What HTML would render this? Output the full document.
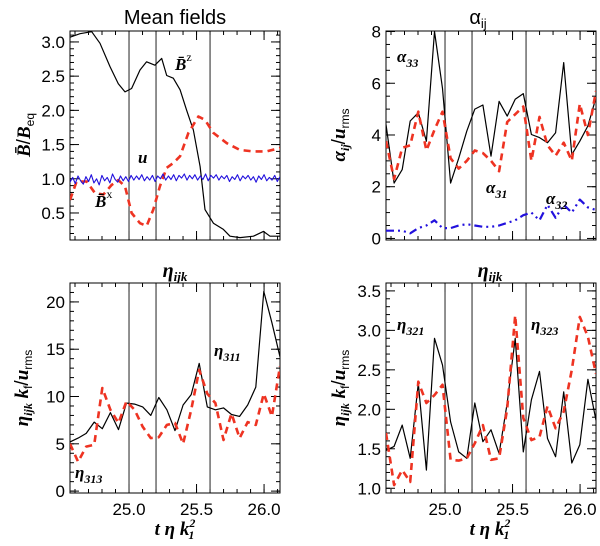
<!DOCTYPE html>
<html><head><meta charset="utf-8"><style>
body{margin:0;background:#fff;}
svg{display:block;font-family:"Liberation Sans",sans-serif;}
.tk{font-size:17px;fill:#000;}
.it{font-family:"Liberation Serif",serif;font-style:italic;font-weight:bold;}
</style></head><body>
<svg id="fig" width="600" height="546" viewBox="0 0 600 546">
<g id="layer"></g>
<text x="175" y="24" text-anchor="middle" font-size="20">Mean fields</text>
<text x="478" y="24" text-anchor="middle" font-size="20">α<tspan font-size="13" dy="4">ij</tspan></text>
<text x="175" y="277" text-anchor="middle" font-size="20" class="it">η<tspan font-size="13" dy="4">ijk</tspan></text>
<text x="490" y="277" text-anchor="middle" font-size="20" class="it">η<tspan font-size="13" dy="4">ijk</tspan></text>
<text x="175" y="535" text-anchor="middle" font-size="19" class="it">t  η  k<tspan font-size="12" dy="-8">2</tspan><tspan font-size="12" dx="-7" dy="12">1</tspan></text>
<text x="490" y="535" text-anchor="middle" font-size="19" class="it">t  η  k<tspan font-size="12" dy="-8">2</tspan><tspan font-size="12" dx="-7" dy="12">1</tspan></text>
<text transform="translate(30,135) rotate(-90)" text-anchor="middle" font-size="19"><tspan class="it">B̄</tspan>/<tspan class="it">B</tspan><tspan font-size="12" dy="4">eq</tspan></text>
<text transform="translate(345,135) rotate(-90)" text-anchor="middle" font-size="19"><tspan class="it">α</tspan><tspan font-size="12" dy="4" class="it">ij</tspan><tspan dy="-4">/</tspan><tspan class="it">u</tspan><tspan font-size="12" dy="4">rms</tspan></text>
<text transform="translate(28,388) rotate(-90)" text-anchor="middle" font-size="19"><tspan class="it">η</tspan><tspan font-size="12" dy="4" class="it">ijk</tspan><tspan dy="-4" class="it"> k</tspan><tspan font-size="12" dy="4">f</tspan><tspan dy="-4">/</tspan><tspan class="it">u</tspan><tspan font-size="12" dy="4">rms</tspan></text>
<text transform="translate(345,388) rotate(-90)" text-anchor="middle" font-size="19"><tspan class="it">η</tspan><tspan font-size="12" dy="4" class="it">ijk</tspan><tspan dy="-4" class="it"> k</tspan><tspan font-size="12" dy="4">f</tspan><tspan dy="-4">/</tspan><tspan class="it">u</tspan><tspan font-size="12" dy="4">rms</tspan></text>
<g font-size="17" class="it">
<text x="175" y="70">B̄<tspan font-size="12" dy="-9" font-style="normal" font-weight="normal">z</tspan></text>
<text x="138" y="163">u</text>
<text x="95" y="207">B̄<tspan font-size="12" dy="-9" font-style="normal" font-weight="normal">x</tspan></text>
<text x="397" y="62">α<tspan font-size="12" dy="5">33</tspan></text>
<text x="486" y="193">α<tspan font-size="12" dy="5">31</tspan></text>
<text x="546" y="204">α<tspan font-size="12" dy="5">32</tspan></text>
<text x="214" y="356">η<tspan font-size="12" dy="5">311</tspan></text>
<text x="75" y="478">η<tspan font-size="12" dy="5">313</tspan></text>
<text x="397" y="330">η<tspan font-size="12" dy="5">321</tspan></text>
<text x="531" y="330">η<tspan font-size="12" dy="5">323</tspan></text>
</g>
</svg>
<script>
// shared x domain
const xTicks=[25.0,25.5,26.0];
const xTickLabels=["25.0","25.5","26.0"];
const markerTimes=[25.0,25.2,25.6];
// Mean fields panel
const bzTimes=[24.563,24.637,24.724,24.785,24.859,24.921,24.970,25.019,25.081,25.130,25.192,25.242,25.279,25.328,25.378,25.427,25.477,25.526,25.563,25.625,25.699,25.748,25.822,25.921,25.995,26.044,26.118];
const bzValues=[3.07,3.12,3.15,2.98,2.64,2.39,2.27,2.32,2.59,2.71,2.66,2.76,2.51,2.47,2.30,2.00,1.71,1.18,0.55,0.35,0.26,0.16,0.14,0.16,0.23,0.16,0.16];
const bxTimes=[24.563,24.612,24.686,24.748,24.810,24.872,24.921,24.970,25.019,25.081,25.130,25.180,25.229,25.279,25.328,25.378,25.440,25.514,25.563,25.625,25.724,25.822,25.921,26.019,26.118];
const bxValues=[0.69,0.96,0.96,0.79,0.77,0.91,0.98,0.89,0.50,0.35,0.31,0.55,0.89,1.16,1.23,1.33,1.67,1.91,1.86,1.67,1.52,1.42,1.40,1.40,1.45];
const uValues=[0.95,1.02,0.93,1.04,0.97,0.92,1.03,0.96,1.06,0.94,1.00,0.91,1.05,0.97,1.02,0.94,1.07,0.99,0.95,1.04,0.97,1.03,0.96,1.05,0.98,1.04,0.99,1.06,0.97,1.03,0.98,1.05,0.96,1.04,1.00,1.07,0.98,1.04,0.99,1.06,0.97,1.05,1.01,1.07,0.98,1.05,1.00,1.06,0.98,1.04,0.99,1.07,0.97,1.05,1.01,1.06,0.98,1.04,1.00,1.05,0.96,1.03,0.99,1.06,0.97,1.04,1.00,1.05,0.98,1.03,0.95,1.04,0.99,1.06,0.97,1.02,0.98,1.05,0.96,1.03];
// coefficient panels (27 samples)
const alpha33=[4.41,2.14,2.66,4.54,4.86,3.76,8.0,5.8,2.14,3.1,4.15,5.0,5.16,3.18,5.3,4.73,5.38,5.6,4.02,3.9,3.7,4.09,6.8,3.24,3.76,4.35,5.45];
const alpha31=[3.76,2.3,3.5,3.6,4.9,3.4,4.2,4.9,3.1,2.7,3.0,3.4,3.3,3.0,2.6,4.5,4.8,5.1,3.0,4.7,3.6,3.2,3.7,3.0,5.2,4.0,5.7];
const alpha32=[0.3,0.3,0.3,0.2,0.4,0.5,0.7,0.4,0.4,0.5,0.55,0.5,0.45,0.45,0.5,0.6,0.7,0.9,1.0,0.7,1.3,0.8,1.3,1.0,1.5,1.2,1.1];
const eta311=[5.2,5.6,6.1,7.3,6.6,8.3,6.5,9.3,9.2,8.9,8.0,9.9,8.6,6.4,9.1,10.2,13.5,8.9,8.6,8.8,8.1,7.9,9.1,11.0,21.1,17.8,14.2];
const eta313=[5.0,3.1,4.7,4.9,10.9,8.6,7.2,9.5,8.6,6.8,5.6,5.7,7.0,7.2,5.0,8.6,12.8,10.3,9.3,5.4,8.2,5.6,7.3,7.0,10.3,7.9,13.2];
const eta321=[1.48,1.53,1.80,1.38,2.33,1.23,2.90,2.56,1.84,1.46,1.38,2.08,1.59,1.74,1.44,2.08,2.90,1.46,2.12,2.48,1.63,1.40,2.22,1.32,1.55,2.38,1.86];
const eta323=[1.70,1.04,1.23,1.08,2.35,2.08,2.18,2.31,1.36,1.35,1.38,1.57,1.80,1.36,1.38,2.01,3.19,1.89,1.61,1.65,2.04,1.76,1.97,2.50,3.17,2.92,2.45];
const tickMeanFields=["0.5","1.0","1.5","2.0","2.5","3.0"];
const tickAlpha=["0","2","4","6","8"];
const tickEta1=["0","5","10","15","20"];
const tickEta2=["1.0","1.5","2.0","2.5","3.0","3.5"];

const NS="http://www.w3.org/2000/svg";
const layer=document.getElementById('layer');
const T0=24.563,T1=26.118;
function mk(tag,attrs,parent){const e=document.createElementNS(NS,tag);for(const k in attrs)e.setAttribute(k,attrs[k]);(parent||layer).appendChild(e);return e;}
function panel(name,x0,x1,y0,y1,ymin,ymax,ticks,minorStep,showX){
  const g=mk('g',{});
  
  
  const sx=t=>x0+(t-T0)/(T1-T0)*(x1-x0);
  const sy=v=>y1-(v-ymin)/(ymax-ymin)*(y1-y0);
  const s=Math.ceil(ymin/minorStep);
  for(let k=s;k*minorStep<=ymax+1e-9;k++){const y=sy(k*minorStep);
    const a=mk('line',{x1:x0,x2:x0+4,y1:y,y2:y,stroke:'#000','stroke-width':1},g);
    const b=mk('line',{x1:x1,x2:x1-4,y1:y,y2:y,stroke:'#000','stroke-width':1},g);}
  ticks.forEach(lbl=>{const y=sy(parseFloat(lbl));
    const a=mk('line',{x1:x0,x2:x0+9,y1:y,y2:y,stroke:'#000'},g);
    const b=mk('line',{x1:x1,x2:x1-9,y1:y,y2:y,stroke:'#000'},g);
    const t=mk('text',{x:x0-5,y:y+6,'text-anchor':'end',class:'tk'},g);t.textContent=lbl;});
  for(let k=246;k<=261;k++){const x=sx(k/10);
    const a=mk('line',{x1:x,x2:x,y1:y1,y2:y1-4,stroke:'#000'},g);
    const b=mk('line',{x1:x,x2:x,y1:y0,y2:y0+4,stroke:'#000'},g);}
  xTicks.forEach((v,i)=>{const x=sx(v);
    const a=mk('line',{x1:x,x2:x,y1:y1,y2:y1-9,stroke:'#000'},g);
    const b=mk('line',{x1:x,x2:x,y1:y0,y2:y0+9,stroke:'#000'},g);
    if(showX){const t=mk('text',{x:x,y:y1+22,'text-anchor':'middle',class:'tk'},g);t.textContent=xTickLabels[i];}});
  markerTimes.forEach(v=>{const x=sx(v);const l=mk('line',{x1:x,x2:x,y1:y0,y2:y1,stroke:'#222','stroke-width':1},g);});
  const f=mk('rect',{x:x0,y:y0,width:x1-x0,height:y1-y0,fill:'none',stroke:'#000','stroke-width':1},g);
  return {g,sx,sy,x0,x1,y0,y1};
}
function series(p,name,times,vals,attrs){
  const pts=vals.map((v,i)=>p.sx(times[i]).toFixed(1)+','+p.sy(v).toFixed(1)).join(' ');
  const cp=mk('clipPath',{id:'c'+name},p.g);mk('rect',{x:p.x0,y:p.y0,width:p.x1-p.x0,height:p.y1-p.y0},cp);
  const e=mk('polyline',Object.assign({points:pts,fill:'none','clip-path':'url(#c'+name+')','stroke-linejoin':'round'},attrs),p.g);
  
  
}
const grid=n=>Array.from({length:n},(_,i)=>T0+i*(T1-T0)/(n-1));
const g27=grid(27);
const RED={stroke:'#ee3322','stroke-width':2.6,'stroke-dasharray':'7,5'};
const BLK={stroke:'#000','stroke-width':1.2};
const BLU={stroke:'#2211dd','stroke-width':2.2,'stroke-dasharray':'8,4,2,4,2,4'};

const p1=panel('panel-mean-fields',70,280,31,240,0.105,3.16,tickMeanFields,0.1,false);
series(p1,'series-bz',bzTimes,bzValues,BLK);
series(p1,'series-bx',bxTimes,bxValues,RED);
series(p1,'series-u',grid(uValues.length),uValues,{stroke:'#2211dd','stroke-width':1.1});
const p2=panel('panel-alpha',386,596,31,240,-0.06,8.02,tickAlpha,0.5,false);
series(p2,'series-alpha33',g27,alpha33,BLK);
series(p2,'series-alpha31',g27,alpha31,RED);
series(p2,'series-alpha32',g27,alpha32,BLU);
const p3=panel('panel-eta-left',70,280,283,493,-0.2,22,tickEta1,1,true);
series(p3,'series-eta311',g27,eta311,BLK);
series(p3,'series-eta313',g27,eta313,RED);
const p4=panel('panel-eta-right',386,596,283,493,0.94,3.6,tickEta2,0.1,true);
series(p4,'series-eta321',g27,eta321,BLK);
series(p4,'series-eta323',g27,eta323,RED);
</script>
</body></html>
